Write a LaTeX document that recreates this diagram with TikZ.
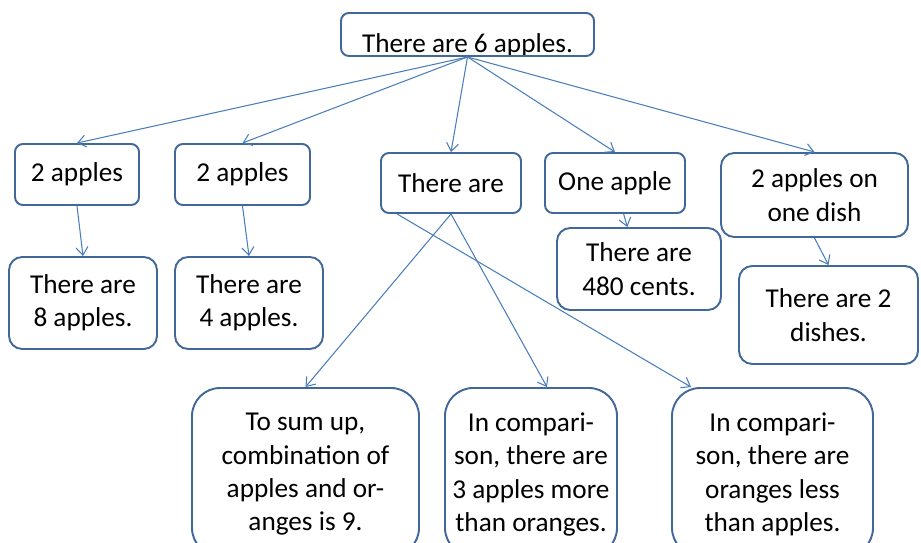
\documentclass[tikz,border=0pt]{standalone}
\usepackage{fontspec}
\setmainfont{Carlito}
\usepackage{xcolor}
\usetikzlibrary{positioning, arrows.meta, calc}

\definecolor{boxblue}{RGB}{65,104,153}
\definecolor{arrblue}{RGB}{74,126,187}

\begin{document}
\begin{tikzpicture}[
    box/.style={draw=boxblue, line width=1.1pt, fill=white, rounded corners=4.5pt, align=center, inner sep=0pt, font=\fontsize{15.5}{19}\selectfont},
    midbox/.style={box, rounded corners=7.5pt},
    bigbox/.style={box, rounded corners=16pt, minimum height=3.36cm, text depth=-0.06cm},
    arr/.style={-{Straight Barb[length=1.6mm, width=2.4mm]}, draw=arrblue, line width=0.6pt}
]
    \clip (0,0) rectangle (18.42,-10.86);

    % top statement, text sits low and is cut by the frame
    \node[box, minimum width=5.06cm, minimum height=0.86cm,
          path picture={\node[anchor=base, font=\fontsize{15.5}{19}\selectfont] (toptext)
              at ([yshift=-0.36cm]path picture bounding box.center) {There are 6 apples.};}]
          (top) at (9.35,-0.69) {};

    % second row
    \node[box, minimum width=2.48cm, minimum height=1.22cm] (appA) at (1.54,-3.49) {2 apples};
    \node[box, minimum width=2.70cm, minimum height=1.22cm] (appB) at (4.85,-3.49) {2 apples};
    \node[box, minimum width=2.80cm, minimum height=1.20cm] (thr) at (9.02,-3.66) {There are};
    \node[box, minimum width=2.80cm, minimum height=1.20cm] (one) at (12.30,-3.66) {One apple};
    \node[midbox, minimum width=3.74cm, minimum height=1.68cm] (dish) at (16.29,-3.90) {2 apples on\\one dish};

    % results
    \node[midbox, minimum width=2.96cm, minimum height=1.84cm] (eight) at (1.66,-6.06) {There are\\8 apples.};
    \node[midbox, minimum width=2.96cm, minimum height=1.84cm] (four) at (4.98,-6.06) {There are\\4 apples.};
    \node[midbox, minimum width=3.28cm, minimum height=1.64cm] (cents) at (12.78,-5.38) {There are\\480 cents.};
    \node[midbox, minimum width=3.58cm, minimum height=1.96cm] (dishes) at (16.57,-6.30) {There are 2\\dishes.};

    % bottom row
    \node[bigbox, minimum width=4.54cm] (sumup) at (6.11,-9.44) {To sum up,\\combination of\\apples and or-\\anges is 9.};
    \node[bigbox, minimum width=3.44cm] (more) at (10.62,-9.44) {In compari-\\son, there are\\3 apples more\\than oranges.};
    \node[bigbox, minimum width=4.02cm] (less) at (15.45,-9.44) {In compari-\\son, there are\\oranges less\\than apples.};

    \draw[arr] (top.south) -- (appA.north);
    \draw[arr] (top.south) -- (appB.north);
    \draw[arr] (top.south) -- (thr.north);
    \draw[arr] (top.south) -- (one.north);
    \draw[arr] (top.south) -- (dish.north);

    \draw[arr] (appA.south) -- (eight.north);
    \draw[arr] (appB.south) -- (four.north);
    \draw[arr] (one) -- (cents);
    \draw[arr] (dish.south) -- (dishes.north);

    \draw[arr] (thr.south) -- (sumup.north);
    \draw[arr] (thr.south) -- ($(more.north)+(0.32,0)$);
    \draw[arr] ($(thr.south west)+(0.34,0)$) -- ($(less.north west)+(0.40,0)$);
\end{tikzpicture}
\end{document}
